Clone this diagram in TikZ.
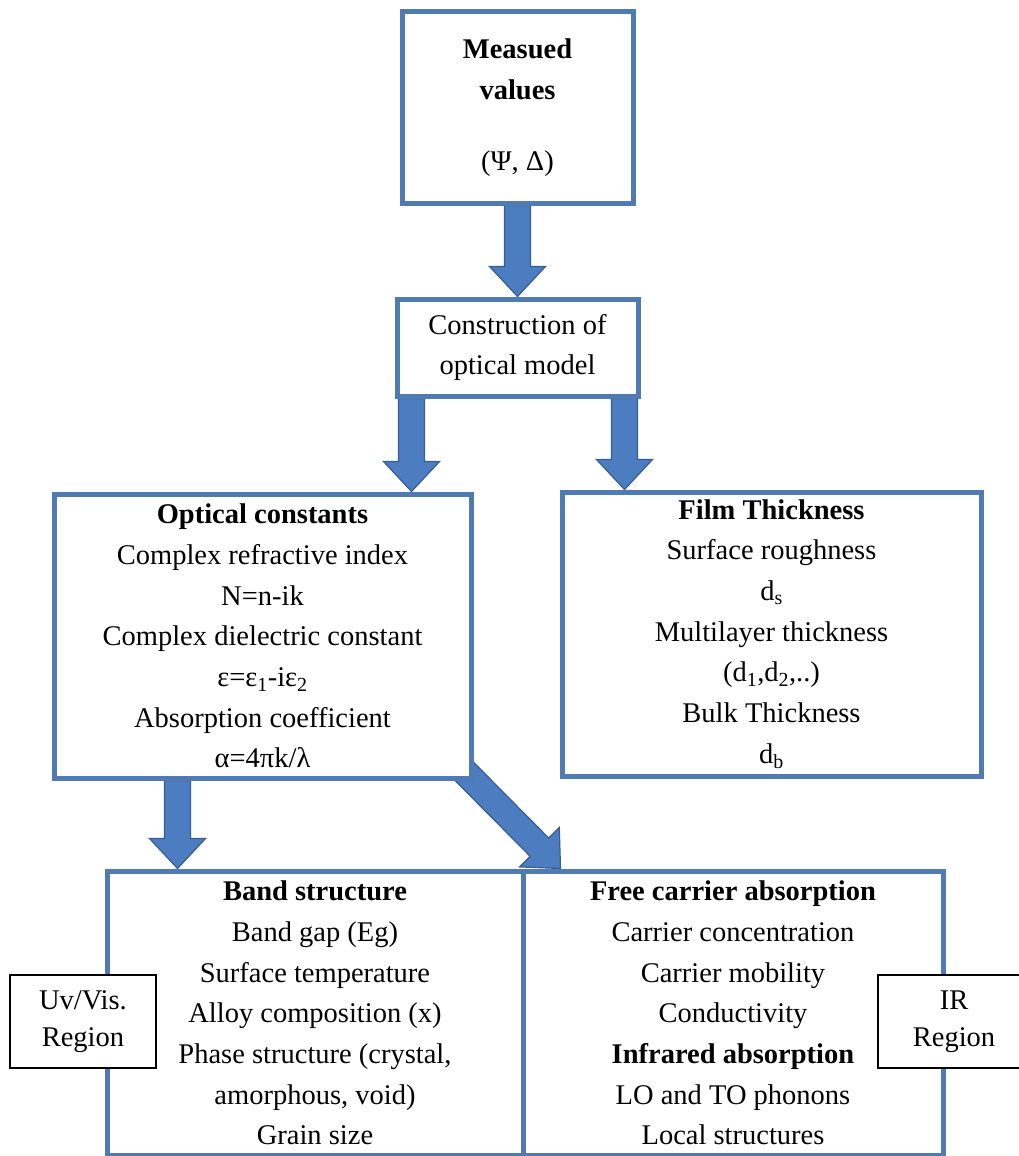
\documentclass[tikz,border=0pt]{standalone}
\usepackage{fontspec}
\setmainfont{Liberation Serif}
\usepackage{tikz}
\usetikzlibrary{calc,backgrounds}
\definecolor{boxblue}{RGB}{80,122,178}
\definecolor{arrowblue}{RGB}{76,125,192}
\definecolor{arrowdark}{RGB}{56,93,145}
\newcommand{\blockarrow}[2] {
  \coordinate (ba-h) at ($(#2)!30pt!(#1)$);
  \filldraw[fill=arrowblue,draw=arrowdark,line width=1.2pt,line join=miter]
    ($(#1)!13pt!90:(#2)$) -- ($(ba-h)!13pt!90:(#2)$) -- ($(ba-h)!28pt!90:(#2)$) -- (#2)
    -- ($(ba-h)!28pt!-90:(#2)$) -- ($(ba-h)!13pt!-90:(#2)$) -- ($(#1)!13pt!-90:(#2)$) -- cycle;}

\begin{document}
\begin{tikzpicture}[x=1pt,y=-1pt,
	box/.style={draw=boxblue,line width=5pt,fill=white,inner sep=0pt,align=center,font=\fontsize{28.5}{40.7}\selectfont},
	region/.style={draw=black,line width=1.3pt,fill=white,inner sep=0pt,align=center,font=\fontsize{28.5}{37}\selectfont}]
					\clip (0,0) rectangle (1019,1156);
					%BOXES
					\node[box,minimum width=231,minimum height=191] (meas) at (517.5,107.5) {\textbf{Measued}\\\textbf{values}\\[30pt](Ψ, Δ)};
					\node[box,minimum width=241,minimum height=97] (cons) at (517.5,347.5) {Construction of\\optical model};
					\node[box,minimum width=417,minimum height=284] (opt) at (262.5,636) {\textbf{Optical constants}\\Complex refractive index\\N=n-ik\\Complex dielectric constant\\ε=ε\textsubscript{1}-iε\textsubscript{2}\\Absorption coefficient\\α=4πk/λ};
					\node[box,minimum width=419,minimum height=284] (film) at (771.5,634) {\textbf{Film Thickness}\\Surface roughness\\d\textsubscript{s}\\Multilayer thickness\\(d\textsubscript{1},d\textsubscript{2},..)\\Bulk Thickness\\d\textsubscript{b}};
					\node[box,minimum width=416,minimum height=284] (band) at (315,1013) {\textbf{Band structure}\\Band gap (Eg)\\Surface temperature\\Alloy composition (x)\\Phase structure (crystal,\\amorphous, void)\\Grain size};
					\node[box,minimum width=420,minimum height=284] (free) at (733,1013) {\textbf{Free carrier absorption}\\Carrier concentration\\Carrier mobility\\Conductivity\\\textbf{Infrared absorption}\\LO and TO phonons\\Local structures};
					\node[region,minimum width=146,minimum height=93] (uv) at (83,1021.5) {Uv/Vis.\\Region};
					\node[region,minimum width=152,minimum height=93] (ir) at (954,1021.5) {IR\\Region};
					%ARROWS
					\coordinate (c1) at ($(cons.south west)+(17,0)$);
					\coordinate (c2) at ($(cons.south east)+(-16,0)$);
					\coordinate (o1) at ($(opt.south west)+(126,0)$);
					\coordinate (o2) at ($(opt.south east)+(-14,-14)$);
					\coordinate (f1) at ($(free.north west)+(40,0)$);
					\coordinate (c1e) at (c1 |- opt.north);
					\coordinate (c2e) at (c2 |- film.north);
					\coordinate (o1e) at (o1 |- band.north);
					\begin{scope}[on background layer]
						\blockarrow{meas.south}{cons.north}
						\blockarrow{c1}{c1e}
						\blockarrow{c2}{c2e}
						\blockarrow{o1}{o1e}
						\blockarrow{o2}{f1}
					\end{scope}
\end{tikzpicture}
\end{document}
